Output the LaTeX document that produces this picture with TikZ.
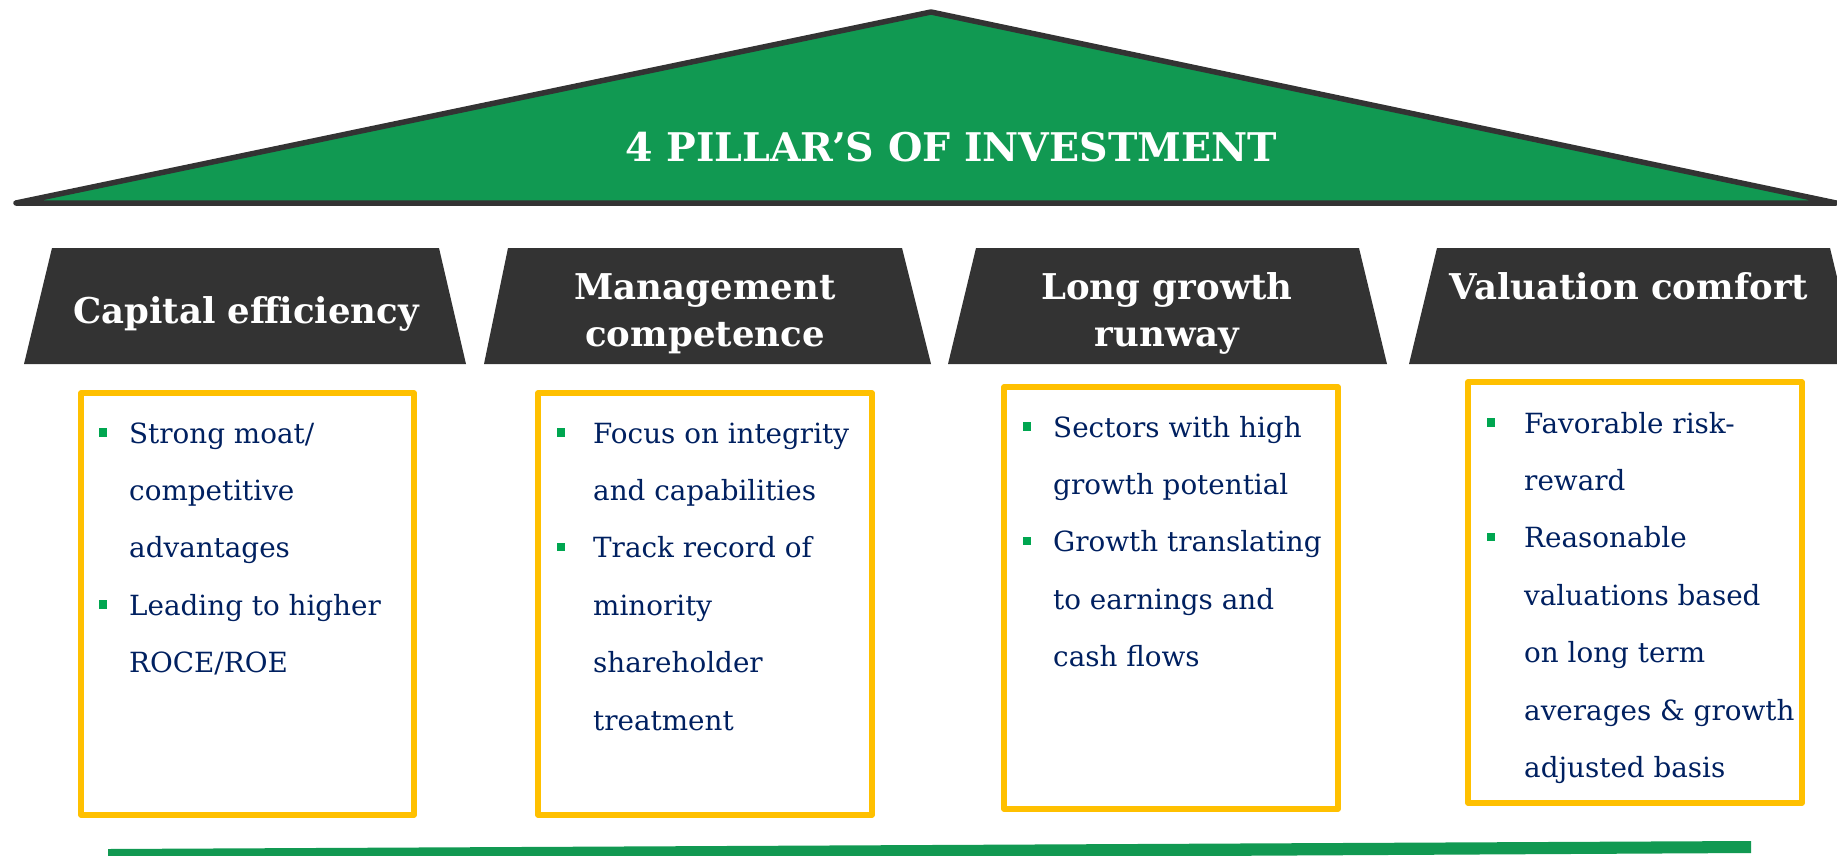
\documentclass[tikz,border=0pt]{standalone}
\usepackage{fontspec}
\setmainfont{DejaVu Serif}
\definecolor{roofgreen}{RGB}{17,153,82}
\definecolor{darkgraythree}{RGB}{51,51,51}
\definecolor{boxyellow}{RGB}{255,192,0}
\definecolor{navytext}{RGB}{0,32,96}
\definecolor{bulletgreen}{RGB}{0,166,80}
\begin{document}
\begin{tikzpicture}[x=1pt,y=-1pt,
  headtext/.style={text=white, font=\bfseries\fontsize{35.5}{40}\selectfont, inner sep=0, anchor=base},
  titletext/.style={text=white, font=\bfseries\fontsize{39.5}{46}\selectfont, inner sep=0},
  body/.style={text=navytext, font=\fontsize{27.8}{34}\selectfont, inner sep=0, anchor=base west},
  pillarbox/.style={draw=boxyellow, line width=5.5pt, line join=round},
  bulletsq/.style={fill=bulletgreen, minimum size=8.5pt, inner sep=0},
  pillarhead/.style={fill=darkgraythree}]
\useasboundingbox (0,0) rectangle (1837,855);
% roof
\draw[fill=roofgreen, draw=darkgraythree, line width=5.5pt, line join=round] (16,203) -- (931,12) -- (1836,203) -- cycle;
\node[titletext] (title) at (951,147) {4 PILLAR’S OF INVESTMENT};
% pillar heads
\path[pillarhead] (52,248) -- (439,248) -- (466,364) -- (24,364) -- cycle;
\path[pillarhead] (508,248) -- (902,248) -- (931,364) -- (484,364) -- cycle;
\path[pillarhead] (976,248) -- (1359,248) -- (1387,364) -- (948,364) -- cycle;
\path[pillarhead] (1437,248) -- (1830,248) -- (1858,364) -- (1409,364) -- cycle;
\node[headtext] (h1) at (246,323) {Capital efficiency};
\node[headtext] (h2a) at (705,299) {Management};
\node[headtext] (h2b) at (705,346) {competence};
\node[headtext] (h3a) at (1167,299) {Long growth};
\node[headtext] (h3b) at (1167,346) {runway};
\node[headtext] (h4) at (1629,299) {Valuation comfort};
% boxes
\draw[pillarbox] (81,393) rectangle (414,815);
\draw[pillarbox] (538,393) rectangle (872,815);
\draw[pillarbox] (1004,387) rectangle (1338,809);
\draw[pillarbox] (1468,382) rectangle (1802,803);
% box 1
\foreach \t [count=\i] in {Strong moat/,competitive,advantages,Leading to higher,ROCE/ROE}
  \node[body] (ta\i) at (129,{443+57.4*(\i-1)}) {\t};
\node[bulletsq] (ba1) at (103,432.3) {};
\node[bulletsq] (ba2) at (103,{432.3+57.4*3}) {};
% box 2
\foreach \t [count=\i] in {Focus on integrity,and capabilities,Track record of,minority,shareholder,treatment}
  \node[body] (tb\i) at (593,{443+57.4*(\i-1)}) {\t};
\node[bulletsq] (bb1) at (561,432.3) {};
\node[bulletsq] (bb2) at (561,{432.3+57.4*2}) {};
% box 3
\foreach \t [count=\i] in {Sectors with high,growth potential,Growth translating,to earnings and,cash flows}
  \node[body] (tc\i) at (1053,{437+57.4*(\i-1)}) {\t};
\node[bulletsq] (bc1) at (1027,426.3) {};
\node[bulletsq] (bc2) at (1027,{426.3+57.4*2}) {};
% box 4
\foreach \t [count=\i] in {Favorable risk-,reward,Reasonable,valuations based,on long term,averages \& growth,adjusted basis}
  \node[body] (td\i) at (1524,{433+57.4*(\i-1)}) {\t};
\node[bulletsq] (bd1) at (1491,422.3) {};
\node[bulletsq] (bd2) at (1491,{422.3+57.4*2}) {};
% bottom bar
\fill[roofgreen] (108,849) -- (1751,841) -- (1751,853) -- (108,862) -- cycle;
\end{tikzpicture}
\end{document}
